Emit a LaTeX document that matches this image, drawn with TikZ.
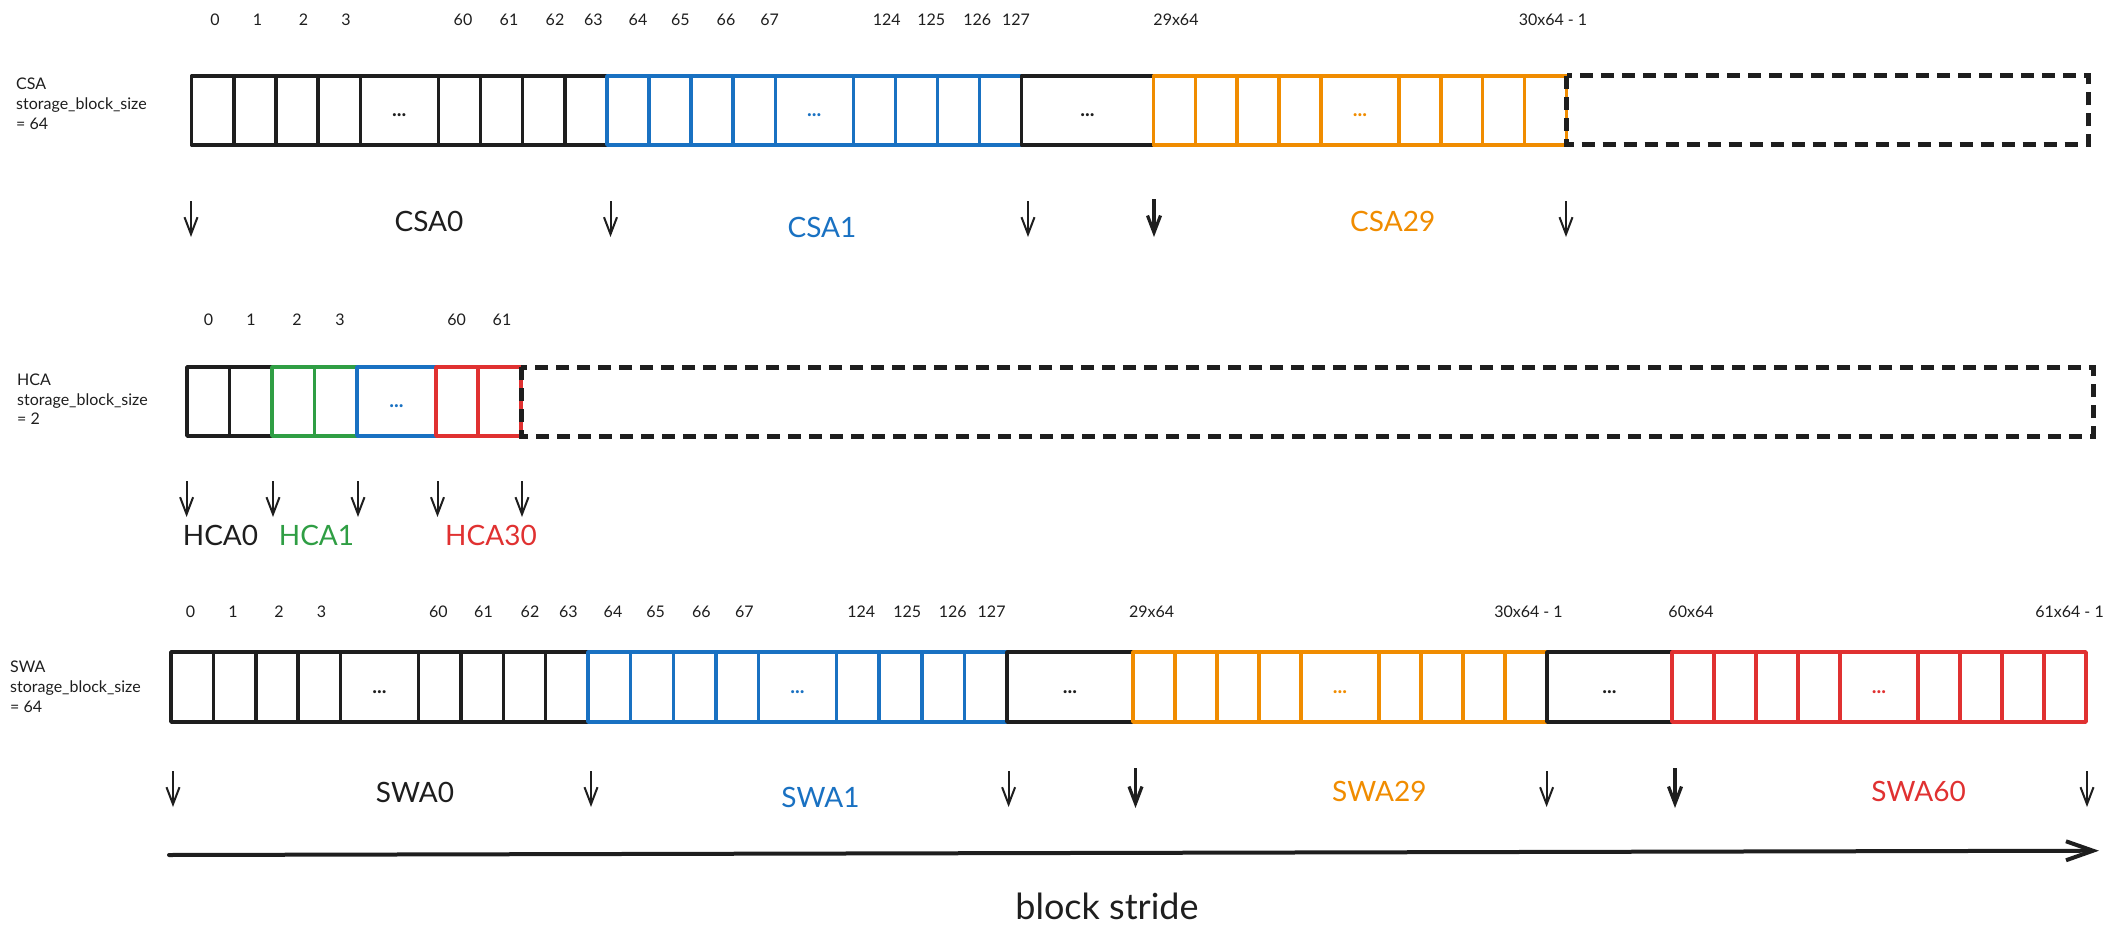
\documentclass[tikz,border=0pt]{standalone}
\usepackage{fontspec}
\setmainfont{Lato}
\usetikzlibrary{arrows.meta}
\definecolor{ink}{HTML}{1E1E1E}
\definecolor{cblue}{HTML}{1971C2}
\definecolor{corange}{HTML}{F08C00}
\definecolor{cgreen}{HTML}{2F9E44}
\definecolor{cred}{HTML}{E03131}
\tikzset{
 cellbox/.style={line width=3.5pt, line join=round},
 dashbox/.style={draw=ink, line width=5pt, dash pattern=on 13pt off 8pt},
 idx/.style={font=\fontsize{16}{19}\selectfont, text=ink, inner sep=0pt},
 side/.style={font=\fontsize{16}{19}\selectfont, text=ink, inner sep=0pt, anchor=base west},
 big/.style={font=\fontsize{28}{32}\selectfont, inner sep=0pt},
 dotsl/.style={font=\fontsize{20}{22}\selectfont\bfseries, inner sep=0pt, anchor=base},
 ptr/.style={draw=ink, line width=2pt, -{Straight Barb[length=17pt,width=13pt]}},
 ptrbold/.style={ptr, line width=3.2pt},
}
% #1 x start, #2 x end, #3 y top, #4 y bottom, #5 colour
\newcommand{\cellrun}[5]{%
 \pgfmathsetmacro{\segcw}{(#2-#1-78)/8}%
 \pgfmathsetmacro{\segdx}{#1+4*\segcw}%
 \foreach \i in {0,1,2,3}{\draw[cellbox,draw=#5] ({#1+\i*\segcw},#3) rectangle ({#1+(\i+1)*\segcw},#4);}
 \draw[cellbox,draw=#5] (\segdx,#3) rectangle ({\segdx+78},#4);
 \node[dotsl,text=#5] at ({\segdx+39},{(#3+#4)/2+6}) {...};
 \foreach \i in {0,1,2,3}{\draw[cellbox,draw=#5] ({\segdx+78+\i*\segcw},#3) rectangle ({\segdx+78+(\i+1)*\segcw},#4);}
}
\begin{document}
\begin{tikzpicture}[x=1pt,y=-1pt]
\useasboundingbox (0,0) rectangle (2115,939);

% ---------------- CSA ----------------
\node[side] (csaA) at (16,90) {CSA};
\node[side] (csaB) at (16,110) {storage\_block\_size};
\node[side] (csaC) at (16,130) {= 64};
\foreach \x/\t in {215/0,257.6/1,303.6/2,346/3,463/60,509/61,555/62,593.4/63,638/64,680.4/65,726/66,769.7/67,886.7/124,931.3/125,977.3/126,1016/127,1176/29x64,1553/30x64 - 1}
  \node[idx] at (\x,20) {\t};
\cellrun{191.6}{607}{76}{145}{ink}
\cellrun{607}{1021.5}{76}{145}{cblue}
\draw[cellbox,draw=ink] (1021.5,76) rectangle (1153.4,145);
\node[dotsl,text=ink] (csadots) at (1087.5,116.5) {...};
\cellrun{1153.4}{1566.5}{76}{145}{corange}
\draw[dashbox] (1566.5,76) rectangle (2088,145);

\foreach \x in {191,610.5,1028,1566} {
  \coordinate (a) at (\x,201); \coordinate (b) at (\x,237);
  \draw[ptr] (a) -- (b);
}
\coordinate (cbA) at (1154,199); \coordinate (cbB) at (1154,237);
\draw[ptrbold] (cbA) -- (cbB);
\node[big,text=ink] (csa0) at (429,221) {CSA0};
\node[big,text=cblue] (csa1) at (822,227) {CSA1};
\node[big,text=corange] (csa29) at (1392.7,221.5) {CSA29};

% ---------------- HCA ----------------
\node[side] (hcaA) at (17,385) {HCA};
\node[side] (hcaB) at (17,405) {storage\_block\_size};
\node[side] (hcaC) at (17,424) {= 2};
\foreach \x/\t in {208.5/0,251/1,297/2,340/3,456.7/60,502/61}
  \node[idx] at (\x,320) {\t};
\draw[cellbox,draw=ink] (187,367) rectangle (229.5,436);
\draw[cellbox,draw=ink] (229.5,367) rectangle (272,436);
\draw[cellbox,draw=cgreen] (272,367) rectangle (314.5,436);
\draw[cellbox,draw=cgreen] (314.5,367) rectangle (357,436);
\draw[cellbox,draw=cblue] (357,367) rectangle (436,436);
\node[dotsl,text=cblue] (hcadots) at (396.5,407.5) {...};
\draw[cellbox,draw=cred] (436,367) rectangle (478,436);
\draw[cellbox,draw=cred] (478,367) rectangle (521,436);
\draw[dashbox] (521,367) rectangle (2093,436);

\foreach \x in {186.6,273,358,437.5,522} {
  \coordinate (a) at (\x,481); \coordinate (b) at (\x,517);
  \draw[ptr] (a) -- (b);
}
\node[big,text=ink] (hca0) at (220.5,535) {HCA0};
\node[big,text=cgreen] (hca1) at (316.5,535) {HCA1};
\node[big,text=cred] (hca30) at (491,535) {HCA30};

% ---------------- SWA ----------------
\node[side] (swaA) at (10,672) {SWA};
\node[side] (swaB) at (10,692) {storage\_block\_size};
\node[side] (swaC) at (10,712) {= 64};
\foreach \x/\t in {190.6/0,233/1,279/2,321.4/3,438.4/60,483.5/61,530/62,568.3/63,613/64,655.7/65,701.4/66,744.3/67,861.3/124,907.2/125,952.8/126,991.6/127,1151.6/29x64,1528.5/30x64 - 1,1691/60x64,2069.5/61x64 - 1}
  \node[idx] at (\x,611.7) {\t};
\cellrun{171}{588}{652}{722}{ink}
\cellrun{588}{1007}{652}{722}{cblue}
\draw[cellbox,draw=ink] (1007,652) rectangle (1133,722);
\node[dotsl,text=ink] (swadotsA) at (1070,693) {...};
\cellrun{1133}{1547}{652}{722}{corange}
\draw[cellbox,draw=ink] (1547,652) rectangle (1672,722);
\node[dotsl,text=ink] (swadotsB) at (1609.5,693) {...};
\cellrun{1672}{2086}{652}{722}{cred}

\foreach \x in {173,591,1008.6,1546.6,2087} {
  \coordinate (a) at (\x,771); \coordinate (b) at (\x,807);
  \draw[ptr] (a) -- (b);
}
\foreach \x in {1135.5,1675} {
  \coordinate (a) at (\x,768); \coordinate (b) at (\x,808);
  \draw[ptrbold] (a) -- (b);
}
\node[big,text=ink] (swa0) at (415,792) {SWA0};
\node[big,text=cblue] (swa1) at (820.4,797) {SWA1};
\node[big,text=corange] (swa29) at (1379.3,791.7) {SWA29};
\node[big,text=cred] (swa60) at (1918.5,791) {SWA60};

% ---------------- stride ----------------
\coordinate (sL) at (169,855);
\coordinate (sR) at (2099,850.7);
\draw[draw=ink, line width=4pt, line cap=round, -{Straight Barb[length=27pt,width=19pt]}] (sL) -- (sR);
\node[font=\fontsize{36}{40}\selectfont, text=ink, inner sep=0pt] (stride) at (1107,906.5) {block stride};
\end{tikzpicture}
\end{document}
